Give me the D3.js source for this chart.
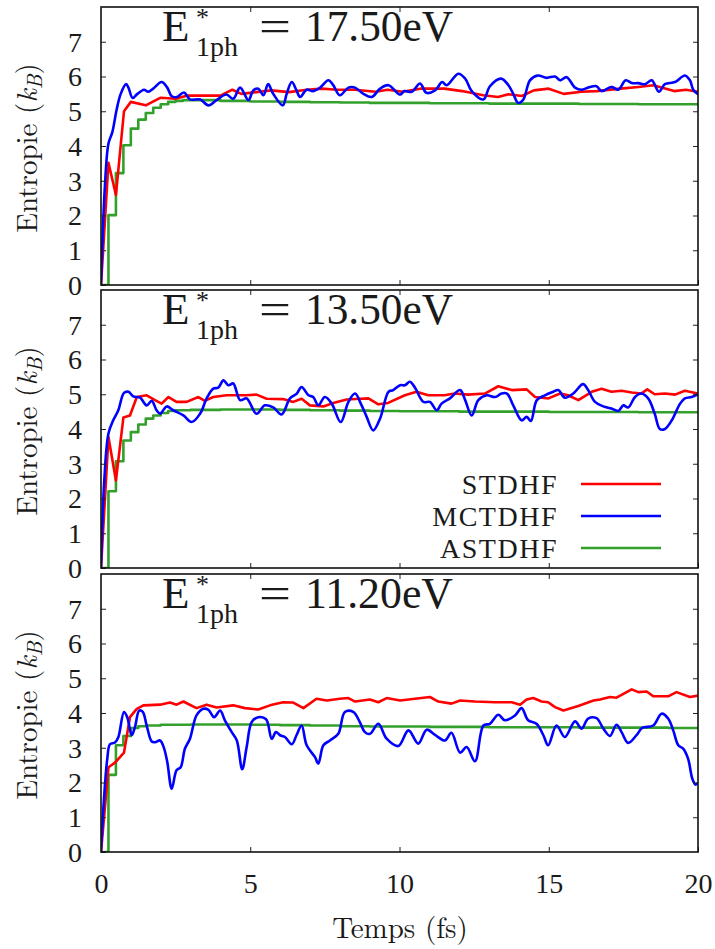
<!DOCTYPE html>
<html>
<head>
<meta charset="utf-8">
<script src="https://cdn.jsdelivr.net/npm/d3@7"></script>
<style>
  html, body { margin: 0; padding: 0; background: #fff; }
  svg { display: block; }
</style>
</head>
<body>
<svg id="chart" width="715" height="949"></svg>
<script>
// ---------------- DATA ----------------
const panelEnergies = ["17.50", "13.50", "11.20"];
const seriesNames = ["STDHF", "MCTDHF", "ASTDHF"];
const seriesColors = ["#ff0000", "#0000ff", "#33a02c"];
const xTicks = [0, 5, 10, 15, 20];
const yTicks = [0, 1, 2, 3, 4, 5, 6, 7];

// [time (fs), entropy (kB)]
const stdhf175 = [[0,0],[0.25,3.52],[0.5,2.59],[0.77,5.0],[1.0,5.27],[1.5,5.17],[2.0,5.39],[2.5,5.36],[2.9,5.45],[3.5,5.45],[4.0,5.45],[4.4,5.62],[4.7,5.5],[5.2,5.55],[5.7,5.6],[6.3,5.55],[6.9,5.62],[7.4,5.65],[7.9,5.62],[8.5,5.62],[9.2,5.56],[9.6,5.62],[10.1,5.56],[10.7,5.65],[11.5,5.65],[12.1,5.58],[12.8,5.46],[13.3,5.41],[13.65,5.49],[14.1,5.44],[14.5,5.6],[15.0,5.65],[15.5,5.5],[16.1,5.56],[16.6,5.58],[17.4,5.65],[18.0,5.7],[18.5,5.75],[19.2,5.58],[19.6,5.62],[20,5.56]];
const mctdhf175 = [[0,0],[0.13,2.83],[0.25,4.07],[0.38,4.4],[0.52,5.03],[0.66,5.5],[0.84,5.78],[0.92,5.68],[1.06,5.38],[1.22,5.5],[1.44,5.62],[1.58,5.56],[1.75,5.65],[2.03,5.84],[2.22,5.68],[2.37,5.43],[2.54,5.41],[2.78,5.54],[2.98,5.34],[3.32,5.34],[3.6,5.17],[3.87,5.32],[4.2,5.48],[4.43,5.36],[4.66,5.68],[4.94,5.32],[5.1,5.6],[5.27,5.65],[5.44,5.46],[5.6,5.78],[5.77,5.5],[6.09,5.17],[6.22,5.5],[6.39,5.84],[6.55,5.6],[6.67,5.41],[6.89,5.62],[7.11,5.58],[7.34,5.68],[7.62,5.89],[7.78,5.75],[8.0,5.46],[8.29,5.68],[8.51,5.68],[8.79,5.5],[9.07,5.41],[9.35,5.65],[9.63,5.75],[10.02,5.48],[10.16,5.58],[10.41,5.56],[10.69,5.8],[10.9,5.53],[11.19,5.6],[11.43,5.84],[11.58,5.75],[11.97,6.08],[12.2,5.94],[12.42,5.58],[12.81,5.34],[13.03,5.72],[13.4,5.94],[13.65,5.75],[13.81,5.5],[13.98,5.24],[14.15,5.34],[14.37,5.89],[14.63,6.03],[14.93,5.96],[15.21,6.0],[15.38,5.89],[15.6,5.98],[15.88,5.68],[16.1,5.62],[16.32,5.68],[16.6,5.72],[16.77,5.58],[17.1,5.7],[17.33,5.62],[17.58,5.89],[17.78,5.81],[18.0,5.81],[18.23,5.78],[18.45,5.89],[18.69,5.56],[18.89,5.78],[19.23,5.84],[19.56,6.03],[19.73,5.89],[19.84,5.62],[20,5.49]];
const astdhf175 = [[0,0],[0.25,2.01],[0.5,3.22],[0.75,4.02],[1.0,4.5],[1.25,4.76],[1.5,4.95],[1.75,5.1],[2.0,5.2],[2.25,5.27],[2.5,5.3],[2.75,5.32],[3.0,5.32],[4,5.3],[5,5.28],[6,5.27],[7,5.26],[8,5.25],[9,5.24],[10,5.24],[11,5.23],[12,5.23],[13,5.22],[14,5.22],[15,5.22],[16,5.21],[17,5.21],[18,5.2],[19,5.2],[20,5.2]];

const stdhf135 = [[0,0],[0.25,3.77],[0.5,2.52],[0.75,4.33],[0.97,4.39],[1.2,4.92],[1.53,4.97],[1.81,4.83],[2.03,4.73],[2.26,4.92],[2.53,4.78],[2.87,4.78],[3.26,4.92],[3.48,4.81],[3.76,4.92],[4.21,4.97],[4.88,4.97],[5.21,4.99],[5.55,4.87],[6.1,4.86],[6.44,4.78],[6.72,4.87],[7.0,4.68],[7.45,4.65],[7.78,4.75],[8.23,4.85],[8.68,4.87],[8.96,4.88],[9.29,4.71],[9.62,4.75],[10.18,4.97],[10.57,5.07],[10.96,4.97],[11.5,4.97],[11.85,5.02],[12.3,4.99],[12.86,5.02],[13.31,5.23],[13.76,5.12],[14.26,5.14],[14.54,4.92],[14.99,4.88],[15.38,5.02],[15.65,4.97],[15.99,4.83],[16.44,5.07],[16.77,5.16],[17.1,5.07],[17.44,5.1],[17.78,5.05],[18.1,5.02],[18.3,5.14],[18.55,5.0],[18.89,5.02],[19.23,4.99],[19.56,5.1],[20,5.02]];
const mctdhf135 = [[0,0],[0.11,2.52],[0.25,3.87],[0.41,4.25],[0.58,4.54],[0.77,5.04],[0.92,5.07],[1.08,4.94],[1.31,4.9],[1.53,4.68],[1.7,4.81],[1.86,4.54],[1.98,4.44],[2.2,4.65],[2.42,4.54],[2.76,4.39],[3.04,4.2],[3.32,4.44],[3.54,4.88],[3.76,5.16],[3.93,5.19],[4.1,5.4],[4.27,5.26],[4.43,5.31],[4.66,4.83],[4.88,4.88],[5.21,4.44],[5.49,4.68],[5.77,4.62],[6.05,4.42],[6.33,4.88],[6.56,5.02],[6.72,5.21],[6.95,4.97],[7.11,4.92],[7.28,4.68],[7.5,4.92],[7.73,4.73],[8.03,4.2],[8.29,4.78],[8.51,5.02],[8.73,4.68],[8.9,4.35],[9.12,3.96],[9.35,4.3],[9.63,5.07],[9.79,5.12],[10.02,5.26],[10.18,5.26],[10.35,5.36],[10.52,5.19],[10.8,4.78],[11.02,4.78],[11.25,4.54],[11.41,4.73],[11.69,4.88],[12.03,5.12],[12.2,4.83],[12.42,4.39],[12.64,4.83],[12.92,4.97],[13.2,4.92],[13.42,5.02],[13.6,5.02],[13.81,4.68],[14.09,4.25],[14.26,4.35],[14.4,4.23],[14.6,4.83],[14.87,4.97],[15.15,5.07],[15.32,5.12],[15.54,4.9],[15.82,5.02],[16.15,5.29],[16.32,5.12],[16.55,4.78],[16.83,4.65],[17.1,4.59],[17.33,4.52],[17.5,4.68],[17.66,4.62],[17.89,4.92],[18.1,5.02],[18.33,4.88],[18.55,4.44],[18.72,4.0],[18.89,4.0],[19.12,4.25],[19.4,4.73],[19.56,4.88],[19.79,4.92],[20,5.0]];
const astdhf135 = [[0,0],[0.25,2.21],[0.5,3.07],[0.75,3.67],[1.0,3.91],[1.25,4.13],[1.5,4.3],[1.75,4.39],[2.0,4.46],[2.25,4.52],[2.5,4.54],[3,4.55],[4,4.56],[5,4.56],[6,4.55],[7,4.54],[8,4.53],[9,4.52],[10,4.51],[11,4.51],[12,4.5],[13,4.5],[14,4.5],[15,4.49],[16,4.49],[17,4.49],[18,4.48],[19,4.48],[20,4.48]];

const stdhf112 = [[0,0],[0.25,2.44],[0.47,2.57],[0.77,2.86],[0.97,3.88],[1.2,4.12],[1.42,4.22],[1.98,4.24],[2.31,4.3],[2.53,4.24],[2.76,4.33],[3.2,4.14],[3.54,4.24],[3.87,4.16],[4.43,4.22],[4.82,4.14],[5.27,4.1],[5.66,4.22],[6.1,4.31],[6.44,4.3],[6.78,4.14],[7.22,4.41],[7.56,4.36],[8.0,4.41],[8.29,4.43],[8.51,4.33],[9.01,4.39],[9.29,4.31],[9.57,4.43],[10.02,4.36],[10.52,4.41],[11.02,4.46],[11.3,4.33],[11.74,4.27],[12.03,4.36],[12.53,4.33],[13.2,4.31],[13.76,4.31],[14.04,4.24],[14.26,4.39],[14.48,4.43],[14.76,4.33],[14.98,4.31],[15.21,4.17],[15.49,4.07],[15.99,4.2],[16.5,4.36],[16.72,4.39],[17.05,4.46],[17.27,4.44],[17.5,4.55],[17.78,4.68],[18.0,4.6],[18.28,4.62],[18.5,4.48],[19.0,4.48],[19.28,4.6],[19.73,4.46],[20,4.5]];
const mctdhf112 = [[0,0],[0.1,1.53],[0.21,2.68],[0.3,3.1],[0.47,3.15],[0.58,3.3],[0.77,4.03],[0.88,3.88],[1.03,3.36],[1.14,3.6],[1.28,4.07],[1.4,4.03],[1.53,3.64],[1.7,3.18],[1.81,3.16],[1.98,3.21],[2.11,2.99],[2.22,2.59],[2.37,1.82],[2.53,2.35],[2.67,2.44],[2.81,2.97],[2.98,3.26],[3.2,3.93],[3.43,4.12],[3.6,4.09],[3.79,3.88],[3.99,4.07],[4.15,3.79],[4.38,3.45],[4.55,3.21],[4.73,2.38],[4.88,3.02],[5.05,3.74],[5.27,3.88],[5.53,3.82],[5.72,3.26],[5.86,3.45],[6.0,3.36],[6.16,3.31],[6.39,3.1],[6.55,3.36],[6.72,3.64],[6.89,3.07],[7.17,2.73],[7.28,2.54],[7.45,3.07],[7.67,3.21],[7.95,3.4],[8.17,4.03],[8.45,4.03],[8.67,3.74],[8.84,3.45],[9.01,3.4],[9.29,3.69],[9.57,3.26],[9.96,3.05],[10.3,3.5],[10.63,3.12],[10.91,3.52],[11.19,3.37],[11.52,3.21],[11.74,3.43],[12.03,2.86],[12.25,3.02],[12.53,2.61],[12.81,3.64],[13.03,3.69],[13.31,3.95],[13.53,3.79],[13.87,3.93],[14.09,4.14],[14.31,3.79],[14.59,3.69],[14.82,3.36],[14.98,3.07],[15.26,3.64],[15.54,3.31],[15.88,3.76],[16.1,3.55],[16.32,3.84],[16.6,3.85],[16.83,3.55],[17.05,3.34],[17.27,3.66],[17.44,3.45],[17.66,3.14],[17.94,3.36],[18.13,3.57],[18.5,3.64],[18.78,3.98],[19.0,3.84],[19.17,3.5],[19.34,3.07],[19.51,2.97],[19.67,2.68],[19.81,2.11],[19.92,1.94],[20,1.99]];
const astdhf112 = [[0,0],[0.25,2.22],[0.5,3.07],[0.75,3.34],[1.0,3.57],[1.25,3.62],[1.5,3.64],[2,3.66],[3,3.67],[4,3.67],[5,3.66],[6,3.65],[7,3.64],[8,3.62],[9,3.61],[10,3.61],[11,3.6],[12,3.6],[13,3.59],[14,3.59],[15,3.59],[16,3.58],[17,3.58],[18,3.58],[19,3.57],[20,3.57]];

const panelSeries = [
  [stdhf175, mctdhf175, astdhf175],
  [stdhf135, mctdhf135, astdhf135],
  [stdhf112, mctdhf112, astdhf112]
];

// ---------------- LAYOUT ----------------
const FONT = '"Liberation Serif", monospace';
const LMFONT = '"Latin Modern Roman", monospace';
const TXT = "#1a1a1a";
const svg = d3.select("#chart");
const left = 101, right = 698;
const panelTops = [7, 290, 574];
const panelH = 278;
const tickLen = 5;

const x = d3.scaleLinear().domain([0, 20]).range([left, right]);
const curves = [d3.curveLinear, d3.curveCatmullRom.alpha(0.5), d3.curveStepAfter];

panelSeries.forEach((series, pi) => {
  const top = panelTops[pi];
  const y = d3.scaleLinear().domain([0, 8]).range([top + panelH, top]);
  const g = svg.append("g");

  const clipId = "clip" + pi;
  svg.append("clipPath").attr("id", clipId)
    .append("rect").attr("x", left).attr("y", top).attr("width", right - left).attr("height", panelH);

  const lg = g.append("g").attr("clip-path", `url(#${clipId})`);
  [2, 0, 1].forEach(si => {
    const line = d3.line().x(d => x(d[0])).y(d => y(d[1])).curve(curves[si]);
    lg.append("path").datum(series[si])
      .attr("d", line)
      .attr("fill", "none")
      .attr("stroke", seriesColors[si])
      .attr("stroke-width", 2.6)
      .attr("stroke-linejoin", "round");
  });

  const axL = d3.axisLeft(y).tickValues(yTicks).tickSize(-tickLen).tickFormat(d3.format("d")).tickPadding(19);
  const axR = d3.axisRight(y).tickValues(yTicks.slice(1)).tickSize(-tickLen).tickFormat("");
  const axB = d3.axisBottom(x).tickValues(xTicks).tickSize(-tickLen).tickFormat(d3.format("d")).tickPadding(21);
  const axT = d3.axisTop(x).tickValues(xTicks.slice(1, -1)).tickSize(-tickLen).tickFormat("");

  const gl = g.append("g").attr("transform", `translate(${left},0)`).call(axL);
  const gr = g.append("g").attr("transform", `translate(${right},0)`).call(axR);
  const gb = g.append("g").attr("transform", `translate(0,${top + panelH})`).call(axB);
  const gt = g.append("g").attr("transform", `translate(0,${top})`).call(axT);
  [gl, gr, gb, gt].forEach(a => {
    a.attr("font-family", FONT);
    a.select(".domain").remove();
    a.selectAll(".tick line").attr("stroke", "#222").attr("stroke-width", 1);
  });
  gl.selectAll(".tick text").attr("font-family", FONT).attr("font-size", 28).attr("fill", TXT).attr("dy", "0.33em");
  if (pi < 2) gb.selectAll(".tick text").remove();
  else gb.selectAll(".tick text").attr("font-family", FONT).attr("font-size", 28).attr("fill", TXT).attr("dy", "0.71em");

  g.append("rect").attr("x", left).attr("y", top).attr("width", right - left).attr("height", panelH)
    .attr("fill", "none").attr("stroke", "#111").attr("stroke-width", 1.6);

  // panel title E*_1ph = ...
  const tt = g.append("text").attr("font-family", FONT).attr("fill", TXT);
  tt.append("tspan").attr("x", 162).attr("y", top + 34).attr("font-size", 45).text("E");
  tt.append("tspan").attr("x", 196).attr("y", top + 19).attr("font-size", 26).text("*");
  tt.append("tspan").attr("x", 196).attr("y", top + 49).attr("font-size", 28).text("1ph");
  tt.append("tspan").attr("x", 259).attr("y", top + 34).attr("font-size", 45)
    .attr("textLength", 32).attr("lengthAdjust", "spacingAndGlyphs").text("=");
  tt.append("tspan").attr("x", 305).attr("y", top + 34).attr("font-size", 45)
    .attr("textLength", 148).attr("lengthAdjust", "spacingAndGlyphs").text(panelEnergies[pi] + "eV");

  const cy = top + panelH / 2 + 2;
  const yl = g.append("text")
    .attr("font-family", LMFONT).attr("fill", TXT)
    .attr("transform", `translate(37,${cy}) rotate(-90)`)
    .attr("text-anchor", "middle")
    .attr("font-size", 29);
  yl.append("tspan").text("Entropie (");
  yl.append("tspan").attr("font-style", "italic").text("k");
  yl.append("tspan").attr("font-style", "italic").attr("font-size", 21).attr("dy", 5).text("B");
  yl.append("tspan").attr("dy", -5).text(")");
});

svg.append("text").attr("font-family", LMFONT).attr("fill", TXT).attr("x", 400).attr("y", 938).attr("text-anchor", "middle")
  .attr("font-size", 29).text("Temps (fs)");

const legendRowsY = [484, 516, 548];
seriesNames.forEach((name, i) => {
  svg.append("text").attr("font-family", FONT).attr("fill", TXT).attr("x", 558).attr("y", legendRowsY[i] + 10)
    .attr("text-anchor", "end").attr("font-size", 28).attr("letter-spacing", 1.5).text(name);
  svg.append("line").attr("x1", 581).attr("x2", 661)
    .attr("y1", legendRowsY[i]).attr("y2", legendRowsY[i])
    .attr("stroke", seriesColors[i]).attr("stroke-width", 2.6);
});
</script>
</body>
</html>
